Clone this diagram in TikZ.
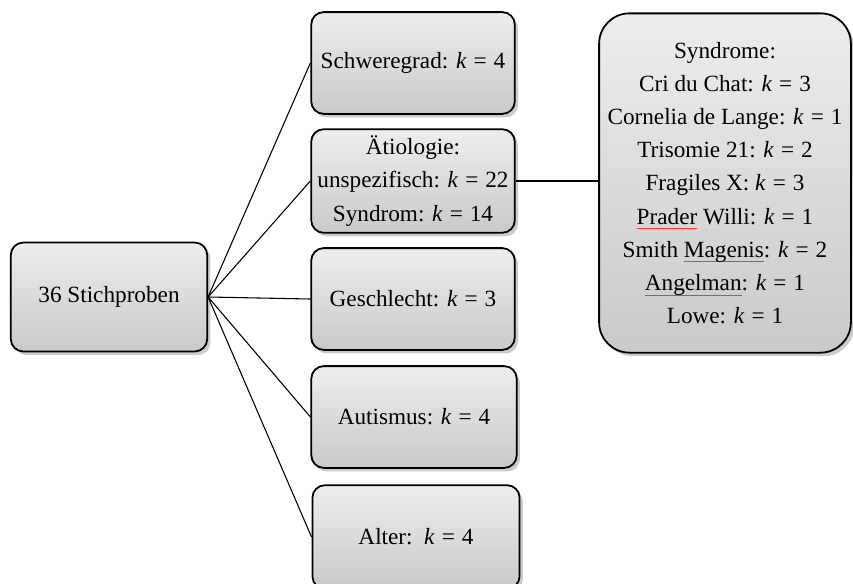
\documentclass[tikz,border=0pt]{standalone}
\usepackage{fontspec}
\setmainfont{Liberation Serif}
\usetikzlibrary{shadows}

% red spell-check mark under a word
\newcommand{\spellmark}[1]{\setbox0\hbox{#1}\rlap{\textcolor{red!80}{\rule[-2.8pt]{\wd0}{0.5pt}}}\box0\relax}
\newcommand{\kis}[1]{\textit{k}\hspace{0.3em}=\hspace{0.3em}#1}

\tikzset{
  catbox/.style={draw, line width=1pt, rounded corners=7pt,
    top color=gray!14, bottom color=gray!42, align=center,
    font=\fontsize{13}{18.6}\selectfont,
    drop shadow={shadow xshift=1.8pt, shadow yshift=-2pt, fill=black!45, opacity=0.45}},
  link/.style={line width=0.6pt}
}

\begin{document}
\begin{tikzpicture}[x=0.56pt,y=-0.56pt]
  \useasboundingbox (0,0) rectangle (853,583);
  % left root
  \node[catbox, minimum width=110pt, minimum height=61pt] (stich) at (109,297) {36 Stichproben};
  % categories
  \node[catbox, minimum width=114pt, minimum height=57pt] (schwere) at (413,63) {Schweregrad: \kis{4}};
  \node[catbox, minimum width=114pt, minimum height=58pt, inner sep=1pt] (aetio) at (413,181)
    {Ätiologie:\\ unspezifisch: \kis{22}\\ Syndrom: \kis{14}};
  \node[catbox, minimum width=114pt, minimum height=57pt] (geschl) at (413,299) {Geschlecht: \kis{3}};
  \node[catbox, minimum width=115pt, minimum height=57pt] (autis) at (414,417) {Autismus: \kis{4}};
  \node[catbox, minimum width=116pt, minimum height=58pt] (alter) at (416,537) {Alter:\ \ \kis{4}};
  % syndrome list
  \node[catbox, rounded corners=17pt, minimum width=141pt, minimum height=190pt, inner sep=0pt] (syndr) at (725,183)
    {Syndrome:\\ Cri du Chat: \kis{3}\\ Cornelia de Lange: \kis{1}\\ Trisomie 21: \kis{2}\\
     Fragiles X: \kis{3}\\ \spellmark{Prader} Willi: \kis{1}\\ Smith \spellmark{Magenis}: \kis{2}\\
     \spellmark{Angelman}: \kis{1}\\ Lowe: \kis{1}};
  % connectors
  \foreach \cat in {schwere,aetio,geschl,autis,alter}
    \draw[link] (stich.east) -- (\cat.west);
  \draw[link] (aetio.east) -- (syndr.west |- aetio.east);
\end{tikzpicture}
\end{document}
